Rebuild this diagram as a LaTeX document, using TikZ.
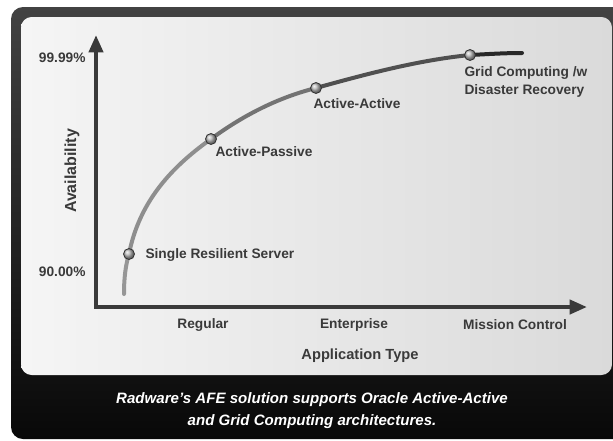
\documentclass[tikz,border=0pt]{standalone}
\usepackage{fontspec}
\setmainfont{Liberation Sans}
\usepackage{tikz}
\usetikzlibrary{arrows.meta}
\tikzset{every picture/.style={line width=0.75pt}}
\definecolor{txtgray}{RGB}{58,58,58}
\definecolor{axisgray}{RGB}{58,58,58}

\begin{document}
\begin{tikzpicture}[x=0.75pt,y=0.75pt,yscale=-1,
  txt/.style={font=\fontsize{10.3}{13.5}\selectfont\bfseries, text=txtgray, inner sep=0pt},
  axisline/.style={draw=axisgray, line width=3pt, line join=miter, {Triangle[length=13pt,width=10.5pt]}-{Triangle[length=13pt,width=10.5pt]}},
  curve/.style={line width=3pt, line cap=round},
  ball/.style={circle, inner sep=0pt, minimum size=8.25pt, shading=ball, ball color=gray!55, draw=black!80, line width=0.6pt}]
\path[use as bounding box] (0,0) rectangle (613,440);
\clip (0,0) rectangle (613,440);

%Shape: Outer frame
\shade[top color={rgb,255:red,66;green,66;blue,66}, bottom color={rgb,255:red,8;green,8;blue,8}, rounded corners=9pt] (11,7) rectangle (640,439);
%Shape: Inner panel
\shade[left color={rgb,255:red,245;green,245;blue,245}, right color={rgb,255:red,218;green,218;blue,218}, rounded corners=8pt] (21,17) rectangle (612,375);

%Axes
\coordinate (ytip) at (96,35);
\coordinate (origin) at (96,307);
\coordinate (xtip) at (587,307);
\draw[axisline] (ytip) -- (origin) -- (xtip);

%Curve points
\coordinate (cstart) at (124,294);
\coordinate (srs) at (129,254);
\coordinate (ap) at (211,139);
\coordinate (aa) at (316,88);
\coordinate (grid) at (470,55);
\coordinate (cend) at (522,53);

%Curve
\draw[curve, color={rgb,255:red,150;green,150;blue,150}] (cstart) .. controls (124,276) and (126,264) .. (srs);
\draw[curve, color={rgb,255:red,142;green,142;blue,142}] (srs) .. controls (139,203) and (170,168) .. (ap);
\draw[curve, color={rgb,255:red,115;green,115;blue,115}] (ap) .. controls (245,114) and (280,97) .. (aa);
\draw[curve, color={rgb,255:red,80;green,80;blue,80}] (aa) .. controls (370,73) and (420,60) .. (grid);
\draw[curve, color={rgb,255:red,40;green,40;blue,40}] (grid) .. controls (490,54) and (505,53) .. (cend);

%Shape: Circles
\node[ball] (srsdot) at (srs) {};
\node[ball] (apdot) at (ap) {};
\node[ball] (aadot) at (aa) {};
\node[ball] (griddot) at (grid) {};

%Point labels
\node[txt, anchor=west] (srslabel) at (145,255) {Single Resilient Server};
\node[txt, anchor=west] (aplabel) at (215,152) {Active-Passive};
\node[txt, anchor=west] (aalabel) at (313,104) {Active-Active};
\node[txt, anchor=north west, align=left] (gridlabel) at (464,66) {Grid Computing /w\\Disaster Recovery};

%Axis labels
\node[txt, anchor=east] (ymax) at (86,58) {99.99\%};
\node[txt, anchor=east] (ymin) at (86,272) {90.00\%};
\node[txt, font=\fontsize{12}{14}\selectfont\bfseries, rotate=90] (ytitle) at (72,171) {Availability};
\node[txt] (regular) at (203,325) {Regular};
\node[txt] (enterprise) at (354,325) {Enterprise};
\node[txt] (mission) at (515,325) {Mission Control};
\node[txt, font=\fontsize{11}{13}\selectfont\bfseries] (xtitle) at (360,356) {Application Type};

%Caption
\node[font=\fontsize{11.3}{16.5}\selectfont\bfseries\itshape, text=white, align=center, inner sep=0pt] (caption) at (312,411) {Radware’s AFE solution supports Oracle Active-Active\\and Grid Computing architectures.};

\end{tikzpicture}
\end{document}
